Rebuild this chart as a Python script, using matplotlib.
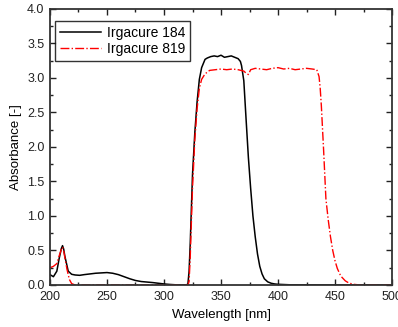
import matplotlib as mpl
mpl.use('Agg')
import matplotlib.pyplot as plt
from matplotlib.ticker import MultipleLocator, FormatStrFormatter

plt.rcParams['font.family'] = ['Liberation Sans', 'DejaVu Sans']

# Irgacure 184 (black, solid)
wl_184 = [200, 203, 206, 208, 210, 211, 212, 213, 216, 219, 222, 226, 230, 235, 240,
          245, 250, 255, 260, 265, 270, 275, 280, 290, 300, 305, 310, 315, 320, 321,
          322, 323, 324, 325, 327, 329, 331, 333, 336, 338, 341, 344, 347, 350, 353,
          356, 359, 362, 365, 367, 368, 370, 372, 374, 376, 378, 380, 382, 384, 386,
          388, 391, 394, 397, 400, 410, 450, 500]
abs_184 = [0.15, 0.12, 0.2, 0.38, 0.53, 0.57, 0.52, 0.42, 0.2, 0.155, 0.145, 0.14, 0.15, 0.16, 0.17,
           0.175, 0.18, 0.17, 0.15, 0.12, 0.09, 0.065, 0.05, 0.035, 0.015, 0.008, 0.003, 0.0, 0.0, 0.02,
           0.2, 0.6, 1.1, 1.6, 2.2, 2.65, 2.98, 3.15, 3.27, 3.29, 3.31, 3.32, 3.31, 3.33, 3.3,
           3.31, 3.32, 3.3, 3.28, 3.24, 3.18, 2.96, 2.4, 1.85, 1.4, 1.0, 0.7, 0.45, 0.27, 0.16,
           0.09, 0.045, 0.025, 0.015, 0.01, 0.003, 0.0, 0.0]

# Irgacure 819 (red, dash-dot)
wl_819 = [200, 203, 206, 208, 210, 211, 212, 213, 215, 217, 219, 222, 230, 300, 320, 321,
          322, 323, 324, 325, 327, 329, 331, 333, 336, 340, 345, 350, 355, 360,
          365, 370, 372, 374, 376, 380, 385, 390, 395, 400, 405, 410, 415, 420, 425, 430,
          434, 436, 437, 438, 440, 442, 444, 446, 448, 450, 452, 455, 459, 462, 466,
          472, 480, 500]
abs_819 = [0.25, 0.27, 0.31, 0.42, 0.52, 0.55, 0.5, 0.4, 0.22, 0.08, 0.02, 0.0, 0.0, 0.0, 0.0, 0.0,
           0.05, 0.4, 0.9, 1.4, 2.1, 2.55, 2.85, 2.98, 3.06, 3.11, 3.12, 3.13, 3.12, 3.13,
           3.12, 3.1, 3.07, 3.05, 3.12, 3.14, 3.13, 3.12, 3.14, 3.15, 3.13, 3.14, 3.12, 3.13, 3.14, 3.13,
           3.12, 3.02, 2.85, 2.6, 1.95, 1.25, 0.95, 0.7, 0.5, 0.35, 0.24, 0.13, 0.06, 0.03, 0.01,
           0.0, 0.0, 0.0]

fig = plt.figure(figsize=(3.98, 3.27), dpi=100)
ax = fig.add_axes([0.1256, 0.1285, 0.8594, 0.844])

ax.plot(wl_184, abs_184, color='black', linewidth=1.1, label='Irgacure 184')
ax.plot(wl_819, abs_819, color='red', linewidth=1.0, linestyle='-.', label='Irgacure 819')

ax.set_xlim(200, 500)
ax.set_ylim(0, 4.0)
ax.xaxis.set_major_locator(MultipleLocator(50))
ax.xaxis.set_minor_locator(MultipleLocator(25))
ax.yaxis.set_major_locator(MultipleLocator(0.5))
ax.yaxis.set_minor_locator(MultipleLocator(0.25))
ax.yaxis.set_major_formatter(FormatStrFormatter('%.1f'))
ax.tick_params(which='both', direction='in', top=True, right=True, labelsize=9, width=1.0,
               colors='#222222')
ax.tick_params(which='major', length=4, pad=4)
ax.tick_params(which='minor', length=2)
for s in ax.spines.values():
    s.set_linewidth(1.3)
    s.set_color('#333333')

ax.set_xlabel('Wavelength [nm]', fontsize=9.5, labelpad=5)
ax.set_ylabel('Absorbance [-]', fontsize=9.5, labelpad=4)

leg = ax.legend(loc='upper left', bbox_to_anchor=(0.014, 0.957), borderaxespad=0,
                fontsize=10, frameon=True, fancybox=False, edgecolor='black',
                handlelength=3.0, handletextpad=0.4, borderpad=0.35, labelspacing=0.15)
leg.get_frame().set_linewidth(1.0)

plt.savefig('out.png')
